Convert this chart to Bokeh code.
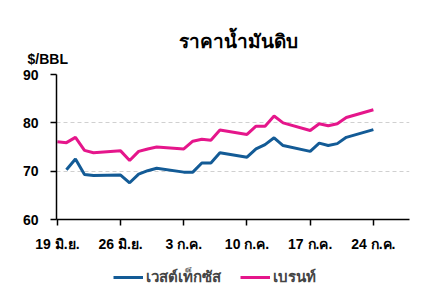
from bokeh.plotting import figure
from bokeh.models import Legend, LegendItem, FixedTicker, Range1d, Title
from bokeh.layouts import column
from bokeh.embed import file_html
from bokeh.resources import INLINE

# Days counted from 19 June
tick_days = [0, 7, 14, 21, 28, 35]
tick_labels = ["19 มิ.ย.", "26 มิ.ย.", "3 ก.ค.", "10 ก.ค.", "17 ก.ค.", "24 ก.ค."]
y_ticks = [60, 70, 80, 90]

brent_days = [0, 1, 2, 3, 4, 7, 8, 9, 10, 11, 14, 15, 16, 17, 18, 21, 22, 23, 24, 25, 28, 29, 30, 31, 32, 35]
brent_vals = [76.1, 75.9, 77.0, 74.3, 73.8, 74.2, 72.2, 74.1, 74.6, 75.0, 74.6, 76.2, 76.6, 76.4, 78.5,
              77.6, 79.3, 79.3, 81.4, 80.0, 78.4, 79.8, 79.4, 79.8, 81.1, 82.7]

wti_days = [1, 2, 3, 4, 7, 8, 9, 10, 11, 14, 15, 16, 17, 18, 21, 22, 23, 24, 25, 28, 29, 30, 31, 32, 35]
wti_vals = [70.3, 72.5, 69.3, 69.1, 69.2, 67.6, 69.4, 70.1, 70.6, 69.8, 69.8, 71.7, 71.7, 73.8,
            72.9, 74.6, 75.5, 76.9, 75.3, 74.1, 75.8, 75.3, 75.7, 77.0, 78.6]

title_text = "ราคาน้ำมันดิบ"
unit_text = "$/BBL"
wti_name = "เวสต์เท็กซัส"
brent_name = "เบรนท์"

FONT = "Liberation Sans"
BLUE = "#135b96"
PINK = "#e5168b"

p = figure(width=421, height=262, output_backend="svg", toolbar_location=None,
           x_range=Range1d(-0.1, 39), y_range=Range1d(60, 90),
           min_border_left=56, min_border_right=12, min_border_top=74, min_border_bottom=43)
p.outline_line_color = None
p.background_fill_color = "white"
p.border_fill_color = "white"

p.line(wti_days, wti_vals, line_color=BLUE, line_width=3)
p.line(brent_days, brent_vals, line_color=PINK, line_width=3)

# axes
p.xaxis.ticker = FixedTicker(ticks=tick_days)
p.xaxis.major_label_overrides = {d: l for d, l in zip(tick_days, tick_labels)}
p.yaxis.ticker = FixedTicker(ticks=y_ticks)
for ax in (p.xaxis, p.yaxis):
    ax.axis_line_color = "black"
    ax.axis_line_width = 1.5
    ax.major_tick_line_color = "black"
    ax.major_tick_line_width = 1.5
    ax.major_tick_in = 0
    ax.major_tick_out = 6
    ax.minor_tick_line_color = None
    ax.major_label_text_font = FONT
    ax.major_label_text_font_style = "bold"
    ax.major_label_text_font_size = "14px"
    ax.major_label_text_color = "black"
p.yaxis.major_label_standoff = 12
p.xaxis.major_label_standoff = 10

p.xgrid.grid_line_color = None
p.ygrid.ticker = FixedTicker(ticks=[70, 80, 90])
p.ygrid.grid_line_color = "#d0d0d0"
p.ygrid.grid_line_dash = "4 3"
p.ygrid.grid_line_width = 1

# unit text (inner title) and chart title (outer title)
p.add_layout(Title(text=unit_text, align="left", offset=-29, standoff=16,
                   text_font=FONT, text_font_style="bold", text_font_size="14px",
                   text_color="black"), "above")
p.add_layout(Title(text=title_text, align="left", offset=122, standoff=-22,
                   text_font=FONT, text_font_style="bold", text_font_size="19px",
                   text_color="black"), "above")

# legend strip below the chart (series kept out of its view; only the swatches show)
q = figure(width=421, height=35, output_backend="svg", toolbar_location=None,
           x_range=Range1d(-20, -10), y_range=Range1d(0, 1), x_axis_type=None, y_axis_type=None,
           min_border_left=0, min_border_right=0, min_border_top=0, min_border_bottom=0)
q.outline_line_color = None
q.grid.visible = False
k_wti = q.line(wti_days, wti_vals, line_color=BLUE, line_width=3)
k_brent = q.line(brent_days, brent_vals, line_color=PINK, line_width=3)
legend = Legend(items=[LegendItem(label=wti_name, renderers=[k_wti]),
                       LegendItem(label=brent_name, renderers=[k_brent])],
                orientation="horizontal", location=(57, 8),
                label_text_font=FONT, label_text_font_style="bold", label_text_font_size="15px",
                glyph_width=30, label_standoff=3, spacing=16, padding=0, margin=0,
                label_width=78,
                border_line_color=None, background_fill_alpha=0)
q.add_layout(legend, "center")

layout = column(p, q, spacing=0)
open("out.html", "w").write(file_html(layout, INLINE))
